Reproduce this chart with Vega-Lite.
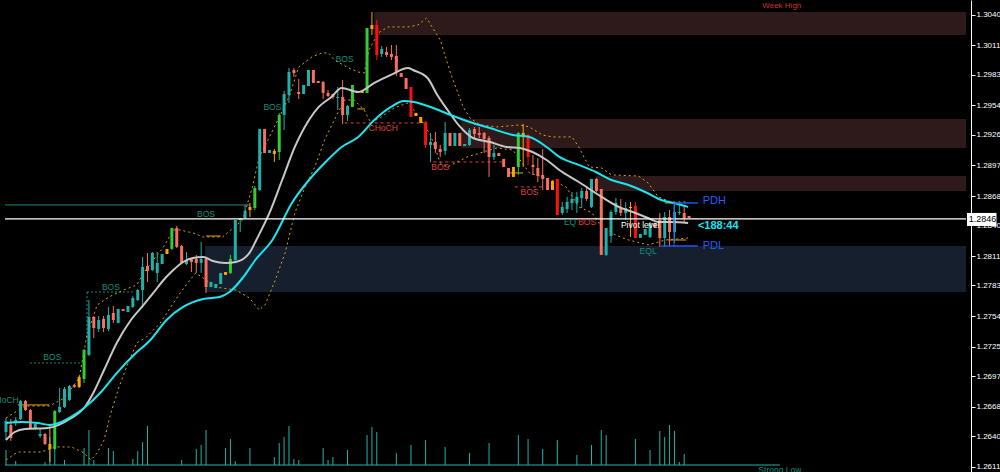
{
"$schema":"https://vega.github.io/schema/vega-lite/v6.json",
"width":971,"height":472,
"padding":{"left":0,"top":0,"right":29,"bottom":0},
"autosize":{"type":"none"},
"background":"#000000",
"config":{"view":{"stroke":null},"font":"Liberation Sans"},
"datasets":{
"candles":[
{"i":0,"o":1.26438,"c":1.26543,"h":1.26571,"l":1.26362,"k":"U"},
{"i":1,"o":1.26505,"c":1.26381,"h":1.26562,"l":1.26353,"k":"D"},
{"i":2,"o":1.26524,"c":1.26552,"h":1.26581,"l":1.26495,"k":"U"},
{"i":3,"o":1.26562,"c":1.26733,"h":1.26742,"l":1.26552,"k":"U"},
{"i":4,"o":1.26733,"c":1.26647,"h":1.26742,"l":1.26637,"k":"D"},
{"i":5,"o":1.26647,"c":1.26476,"h":1.26657,"l":1.26467,"k":"D"},
{"i":6,"o":1.26467,"c":1.26514,"h":1.26524,"l":1.26457,"k":"U"},
{"i":7,"o":1.26400,"c":1.26419,"h":1.26467,"l":1.26381,"k":"U"},
{"i":8,"o":1.26419,"c":1.26324,"h":1.26429,"l":1.26315,"k":"D"},
{"i":9,"o":1.26324,"c":1.26277,"h":1.26505,"l":1.26153,"k":"O"},
{"i":10,"o":1.26277,"c":1.26637,"h":1.26647,"l":1.26267,"k":"G"},
{"i":11,"o":1.26628,"c":1.26676,"h":1.26856,"l":1.26619,"k":"U"},
{"i":12,"o":1.26676,"c":1.26847,"h":1.26866,"l":1.26666,"k":"U"},
{"i":13,"o":1.26742,"c":1.26875,"h":1.26885,"l":1.26733,"k":"U"},
{"i":14,"o":1.26885,"c":1.26866,"h":1.26894,"l":1.26856,"k":"D"},
{"i":15,"o":1.26866,"c":1.26961,"h":1.26970,"l":1.26856,"k":"O"},
{"i":16,"o":1.26942,"c":1.27217,"h":1.27227,"l":1.26904,"k":"G"},
{"i":17,"o":1.27170,"c":1.27531,"h":1.27692,"l":1.27160,"k":"U"},
{"i":18,"o":1.27531,"c":1.27426,"h":1.27540,"l":1.27331,"k":"D"},
{"i":19,"o":1.27417,"c":1.27502,"h":1.27540,"l":1.27388,"k":"U"},
{"i":20,"o":1.27512,"c":1.27426,"h":1.27540,"l":1.27388,"k":"D"},
{"i":21,"o":1.27417,"c":1.27550,"h":1.27626,"l":1.27397,"k":"U"},
{"i":22,"o":1.27569,"c":1.27502,"h":1.27635,"l":1.27473,"k":"D"},
{"i":23,"o":1.27473,"c":1.27607,"h":1.27607,"l":1.27473,"k":"U"},
{"i":24,"o":1.27607,"c":1.27588,"h":1.27607,"l":1.27588,"k":"D"},
{"i":25,"o":1.27578,"c":1.27635,"h":1.27635,"l":1.27578,"k":"U"},
{"i":26,"o":1.27626,"c":1.27711,"h":1.27730,"l":1.27616,"k":"U"},
{"i":27,"o":1.27692,"c":1.27787,"h":1.27797,"l":1.27683,"k":"U"},
{"i":28,"o":1.27787,"c":1.28006,"h":1.28101,"l":1.27616,"k":"U"},
{"i":29,"o":1.28015,"c":1.27968,"h":1.28139,"l":1.27863,"k":"D"},
{"i":30,"o":1.27977,"c":1.28139,"h":1.28148,"l":1.27968,"k":"U"},
{"i":31,"o":1.27949,"c":1.28044,"h":1.28148,"l":1.27863,"k":"U"},
{"i":32,"o":1.28034,"c":1.28129,"h":1.28129,"l":1.28034,"k":"U"},
{"i":33,"o":1.28129,"c":1.28177,"h":1.28177,"l":1.28129,"k":"O"},
{"i":34,"o":1.28177,"c":1.28376,"h":1.28376,"l":1.28167,"k":"G"},
{"i":35,"o":1.28376,"c":1.28196,"h":1.28395,"l":1.28186,"k":"D"},
{"i":36,"o":1.28205,"c":1.28044,"h":1.28215,"l":1.28034,"k":"D"},
{"i":37,"o":1.28034,"c":1.28072,"h":1.28148,"l":1.28025,"k":"U"},
{"i":38,"o":1.28082,"c":1.28053,"h":1.28082,"l":1.27958,"k":"D"},
{"i":39,"o":1.28082,"c":1.28044,"h":1.28120,"l":1.27949,"k":"D"},
{"i":40,"o":1.28044,"c":1.28082,"h":1.28243,"l":1.27949,"k":"U"},
{"i":41,"o":1.28082,"c":1.27815,"h":1.28101,"l":1.27759,"k":"D"},
{"i":42,"o":1.27815,"c":1.27863,"h":1.27863,"l":1.27815,"k":"U"},
{"i":43,"o":1.27806,"c":1.27844,"h":1.27844,"l":1.27806,"k":"U"},
{"i":44,"o":1.27844,"c":1.27949,"h":1.27949,"l":1.27844,"k":"U"},
{"i":45,"o":1.27930,"c":1.27958,"h":1.27958,"l":1.27930,"k":"O"},
{"i":46,"o":1.27949,"c":1.28082,"h":1.28120,"l":1.27939,"k":"G"},
{"i":47,"o":1.28072,"c":1.28452,"h":1.28452,"l":1.28063,"k":"U"},
{"i":48,"o":1.28452,"c":1.28471,"h":1.28471,"l":1.28338,"k":"U"},
{"i":49,"o":1.28471,"c":1.28538,"h":1.28595,"l":1.28462,"k":"U"},
{"i":50,"o":1.28547,"c":1.28576,"h":1.28614,"l":1.28481,"k":"O"},
{"i":51,"o":1.28566,"c":1.28756,"h":1.28775,"l":1.28547,"k":"G"},
{"i":52,"o":1.28737,"c":1.29317,"h":1.29317,"l":1.28728,"k":"U"},
{"i":53,"o":1.29317,"c":1.29089,"h":1.29317,"l":1.29089,"k":"D"},
{"i":54,"o":1.29089,"c":1.29117,"h":1.29117,"l":1.29089,"k":"U"},
{"i":55,"o":1.29079,"c":1.29108,"h":1.29127,"l":1.29003,"k":"O"},
{"i":56,"o":1.29098,"c":1.29450,"h":1.29469,"l":1.29022,"k":"G"},
{"i":57,"o":1.29450,"c":1.29649,"h":1.29678,"l":1.29307,"k":"U"},
{"i":58,"o":1.29640,"c":1.29858,"h":1.29896,"l":1.29564,"k":"U"},
{"i":59,"o":1.29877,"c":1.29848,"h":1.29896,"l":1.29811,"k":"D"},
{"i":60,"o":1.29668,"c":1.29649,"h":1.29792,"l":1.29602,"k":"D"},
{"i":61,"o":1.29649,"c":1.29735,"h":1.29735,"l":1.29649,"k":"U"},
{"i":62,"o":1.29725,"c":1.29877,"h":1.29877,"l":1.29725,"k":"U"},
{"i":63,"o":1.29877,"c":1.29754,"h":1.29877,"l":1.29754,"k":"D"},
{"i":64,"o":1.29773,"c":1.29754,"h":1.29773,"l":1.29754,"k":"D"},
{"i":65,"o":1.29763,"c":1.29659,"h":1.29773,"l":1.29602,"k":"D"},
{"i":66,"o":1.29659,"c":1.29630,"h":1.29687,"l":1.29621,"k":"D"},
{"i":67,"o":1.29649,"c":1.29621,"h":1.29649,"l":1.29602,"k":"D"},
{"i":68,"o":1.29611,"c":1.29621,"h":1.29716,"l":1.29497,"k":"U"},
{"i":69,"o":1.29621,"c":1.29450,"h":1.29782,"l":1.29364,"k":"D"},
{"i":70,"o":1.29450,"c":1.29535,"h":1.29545,"l":1.29393,"k":"U"},
{"i":71,"o":1.29526,"c":1.29735,"h":1.29735,"l":1.29526,"k":"G"},
{"i":72,"o":1.29678,"c":1.29659,"h":1.29678,"l":1.29659,"k":"O"},
{"i":73,"o":1.29678,"c":1.29659,"h":1.29678,"l":1.29659,"k":"O"},
{"i":74,"o":1.29659,"c":1.30276,"h":1.30276,"l":1.29659,"k":"G"},
{"i":75,"o":1.30304,"c":1.30266,"h":1.30428,"l":1.30210,"k":"O"},
{"i":76,"o":1.30304,"c":1.30020,"h":1.30352,"l":1.29972,"k":"R"},
{"i":77,"o":1.30029,"c":1.30077,"h":1.30105,"l":1.30001,"k":"U"},
{"i":78,"o":1.30048,"c":1.30020,"h":1.30096,"l":1.30001,"k":"D"},
{"i":79,"o":1.30029,"c":1.30001,"h":1.30114,"l":1.29972,"k":"D"},
{"i":80,"o":1.30010,"c":1.29858,"h":1.30114,"l":1.29820,"k":"D"},
{"i":81,"o":1.29848,"c":1.29811,"h":1.29848,"l":1.29811,"k":"D"},
{"i":82,"o":1.29801,"c":1.29697,"h":1.29801,"l":1.29697,"k":"D"},
{"i":83,"o":1.29716,"c":1.29431,"h":1.29716,"l":1.29431,"k":"R"},
{"i":84,"o":1.29469,"c":1.29440,"h":1.29469,"l":1.29440,"k":"O"},
{"i":85,"o":1.29431,"c":1.29374,"h":1.29431,"l":1.29374,"k":"O"},
{"i":86,"o":1.29383,"c":1.29165,"h":1.29393,"l":1.29136,"k":"R"},
{"i":87,"o":1.29165,"c":1.29193,"h":1.29279,"l":1.29003,"k":"U"},
{"i":88,"o":1.29193,"c":1.29127,"h":1.29288,"l":1.29089,"k":"D"},
{"i":89,"o":1.29127,"c":1.29098,"h":1.29165,"l":1.29051,"k":"D"},
{"i":90,"o":1.29108,"c":1.29279,"h":1.29383,"l":1.29070,"k":"U"},
{"i":91,"o":1.29279,"c":1.29155,"h":1.29279,"l":1.29155,"k":"D"},
{"i":92,"o":1.29155,"c":1.29279,"h":1.29279,"l":1.29155,"k":"U"},
{"i":93,"o":1.29279,"c":1.29155,"h":1.29279,"l":1.29155,"k":"D"},
{"i":94,"o":1.29155,"c":1.29174,"h":1.29174,"l":1.29155,"k":"U"},
{"i":95,"o":1.29165,"c":1.29307,"h":1.29326,"l":1.29155,"k":"U"},
{"i":96,"o":1.29317,"c":1.29269,"h":1.29336,"l":1.29231,"k":"D"},
{"i":97,"o":1.29279,"c":1.29260,"h":1.29336,"l":1.29231,"k":"D"},
{"i":98,"o":1.29279,"c":1.29222,"h":1.29288,"l":1.29089,"k":"D"},
{"i":99,"o":1.29231,"c":1.29051,"h":1.29250,"l":1.28861,"k":"D"},
{"i":100,"o":1.29051,"c":1.29089,"h":1.29165,"l":1.29022,"k":"U"},
{"i":101,"o":1.29089,"c":1.29060,"h":1.29089,"l":1.29060,"k":"D"},
{"i":102,"o":1.29032,"c":1.28956,"h":1.29032,"l":1.28956,"k":"D"},
{"i":103,"o":1.28946,"c":1.28861,"h":1.28946,"l":1.28861,"k":"D"},
{"i":104,"o":1.28861,"c":1.28956,"h":1.28956,"l":1.28861,"k":"O"},
{"i":105,"o":1.28956,"c":1.29279,"h":1.29288,"l":1.28880,"k":"G"},
{"i":106,"o":1.29279,"c":1.29241,"h":1.29364,"l":1.28956,"k":"O"},
{"i":107,"o":1.29260,"c":1.29051,"h":1.29269,"l":1.28975,"k":"R"},
{"i":108,"o":1.28975,"c":1.28956,"h":1.29070,"l":1.28880,"k":"D"},
{"i":109,"o":1.28946,"c":1.28870,"h":1.29041,"l":1.28813,"k":"D"},
{"i":110,"o":1.28880,"c":1.28842,"h":1.29127,"l":1.28737,"k":"D"},
{"i":111,"o":1.28851,"c":1.28737,"h":1.28851,"l":1.28737,"k":"D"},
{"i":112,"o":1.28823,"c":1.28737,"h":1.28823,"l":1.28737,"k":"O"},
{"i":113,"o":1.28842,"c":1.28500,"h":1.28842,"l":1.28500,"k":"R"},
{"i":114,"o":1.28519,"c":1.28576,"h":1.28623,"l":1.28500,"k":"U"},
{"i":115,"o":1.28557,"c":1.28623,"h":1.28671,"l":1.28519,"k":"U"},
{"i":116,"o":1.28614,"c":1.28652,"h":1.28718,"l":1.28547,"k":"U"},
{"i":117,"o":1.28614,"c":1.28671,"h":1.28718,"l":1.28519,"k":"U"},
{"i":118,"o":1.28661,"c":1.28728,"h":1.28756,"l":1.28566,"k":"U"},
{"i":119,"o":1.28728,"c":1.28652,"h":1.28766,"l":1.28633,"k":"D"},
{"i":120,"o":1.28576,"c":1.28842,"h":1.28842,"l":1.28566,"k":"U"},
{"i":121,"o":1.28842,"c":1.28728,"h":1.28851,"l":1.28718,"k":"D"},
{"i":122,"o":1.28747,"c":1.28120,"h":1.28747,"l":1.28120,"k":"D"},
{"i":123,"o":1.28120,"c":1.28376,"h":1.28376,"l":1.28110,"k":"U"},
{"i":124,"o":1.28300,"c":1.28528,"h":1.28547,"l":1.28234,"k":"U"},
{"i":125,"o":1.28528,"c":1.28614,"h":1.28661,"l":1.28500,"k":"U"},
{"i":126,"o":1.28566,"c":1.28519,"h":1.28652,"l":1.28490,"k":"D"},
{"i":127,"o":1.28519,"c":1.28566,"h":1.28623,"l":1.28452,"k":"U"},
{"i":128,"o":1.28576,"c":1.28566,"h":1.28623,"l":1.28291,"k":"O"},
{"i":129,"o":1.28585,"c":1.28281,"h":1.28623,"l":1.28281,"k":"R"},
{"i":130,"o":1.28281,"c":1.28319,"h":1.28319,"l":1.28281,"k":"U"},
{"i":131,"o":1.28310,"c":1.28367,"h":1.28367,"l":1.28310,"k":"U"},
{"i":132,"o":1.28291,"c":1.28424,"h":1.28433,"l":1.28281,"k":"U"},
{"i":133,"o":1.28424,"c":1.28386,"h":1.28424,"l":1.28386,"k":"D"},
{"i":134,"o":1.28452,"c":1.28281,"h":1.28519,"l":1.28196,"k":"D"},
{"i":135,"o":1.28281,"c":1.28481,"h":1.28528,"l":1.28196,"k":"U"},
{"i":136,"o":1.28481,"c":1.28338,"h":1.28547,"l":1.28196,"k":"D"},
{"i":137,"o":1.28338,"c":1.28528,"h":1.28614,"l":1.28234,"k":"U"},
{"i":138,"o":1.28519,"c":1.28528,"h":1.28623,"l":1.28500,"k":"U"},
{"i":139,"o":1.28519,"c":1.28471,"h":1.28576,"l":1.28433,"k":"D"},
{"i":140,"o":1.28490,"c":1.28471,"h":1.28490,"l":1.28471,"k":"D"}
],
"vol":[
{"i":0,"v":150},{"i":2,"v":40},{"i":8,"v":30},{"i":9,"v":280},{"i":10,"v":180},{"i":12,"v":50},{"i":16,"v":170},{"i":17,"v":350},{"i":18,"v":50},{"i":21,"v":170},{"i":22,"v":140},{"i":26,"v":60},{"i":27,"v":140},{"i":28,"v":230},{"i":29,"v":390},{"i":36,"v":50},{"i":39,"v":160},{"i":40,"v":200},{"i":41,"v":350},{"i":45,"v":170},{"i":46,"v":260},{"i":47,"v":40},{"i":50,"v":170},{"i":55,"v":80},{"i":56,"v":220},{"i":57,"v":280},{"i":58,"v":390},{"i":59,"v":60},{"i":60,"v":50},{"i":65,"v":170},{"i":66,"v":50},{"i":67,"v":80},
{"i":70,"v":150},{"i":74,"v":300},{"i":75,"v":380},{"i":76,"v":330},{"i":80,"v":120},{"i":83,"v":200},{"i":86,"v":250},{"i":90,"v":180},{"i":95,"v":120},{"i":99,"v":220},{"i":105,"v":300},{"i":107,"v":260},{"i":110,"v":160},{"i":113,"v":250},{"i":117,"v":100},{"i":120,"v":200},{"i":122,"v":350},{"i":123,"v":300},{"i":129,"v":260},{"i":132,"v":150},
{"i":134,"v":340},{"i":135,"v":280},{"i":136,"v":400},{"i":137,"v":340},{"i":138,"v":30},{"i":139,"v":110}
],
"ma1":[
{"i":0,"p":1.26362},{"i":1.8,"p":1.26438},{"i":3.9,"p":1.26467},{"i":8.5,"p":1.26476},{"i":13.4,"p":1.26571},{"i":16,"p":1.26666},{"i":18,"p":1.26818},{"i":20.1,"p":1.27027},{"i":22.7,"p":1.27284},{"i":25.6,"p":1.27502},{"i":28.2,"p":1.27645},{"i":30.2,"p":1.27759},{"i":32.3,"p":1.27882},{"i":34.3,"p":1.27977},{"i":36.3,"p":1.28053},{"i":38.3,"p":1.28091},{"i":40.4,"p":1.28101},{"i":42.4,"p":1.28063},{"i":45,"p":1.28044},{"i":47.1,"p":1.28053},{"i":49.9,"p":1.28139},{"i":51.3,"p":1.28262},{"i":54,"p":1.28519},{"i":56.6,"p":1.28832},{"i":59.2,"p":1.29146},{"i":62.1,"p":1.29402},{"i":64.1,"p":1.29526},{"i":66.7,"p":1.29621},{"i":68.8,"p":1.29706},{"i":72.2,"p":1.29668},{"i":75.5,"p":1.29754},{"i":78.9,"p":1.29830},{"i":82.4,"p":1.29896},{"i":83.4,"p":1.29877},{"i":86.4,"p":1.29801},{"i":88.4,"p":1.29640},{"i":90.5,"p":1.29497},{"i":93.1,"p":1.29336},{"i":95.7,"p":1.29231},{"i":99.2,"p":1.29193},{"i":102.6,"p":1.29146},{"i":105.3,"p":1.29136},{"i":107.9,"p":1.29098},{"i":110.8,"p":1.29022},{"i":113.4,"p":1.28927},{"i":117.4,"p":1.28813},{"i":122.1,"p":1.28671},{"i":125.6,"p":1.28576},{"i":129,"p":1.28519},{"i":131.6,"p":1.28471},{"i":133.7,"p":1.28433},{"i":136.3,"p":1.28433},{"i":139.8,"p":1.28424}
],
"ma2":[
{"i":0,"p":1.26524},{"i":3.2,"p":1.26533},{"i":6.5,"p":1.26524},{"i":8.9,"p":1.26505},{"i":11.4,"p":1.26533},{"i":14,"p":1.26600},{"i":16,"p":1.26666},{"i":19.5,"p":1.26818},{"i":22.7,"p":1.26998},{"i":26.2,"p":1.27170},{"i":29.6,"p":1.27312},{"i":32.9,"p":1.27502},{"i":36.3,"p":1.27626},{"i":40.4,"p":1.27702},{"i":43.8,"p":1.27721},{"i":45.8,"p":1.27768},{"i":48.5,"p":1.27901},{"i":51.1,"p":1.28072},{"i":54.6,"p":1.28262},{"i":58.6,"p":1.28614},{"i":62.1,"p":1.28832},{"i":65.3,"p":1.28994},{"i":68.8,"p":1.29146},{"i":72.2,"p":1.29241},{"i":75.5,"p":1.29402},{"i":78.9,"p":1.29526},{"i":81.5,"p":1.29583},{"i":83.6,"p":1.29573},{"i":87,"p":1.29526},{"i":91.1,"p":1.29450},{"i":95.7,"p":1.29374},{"i":99.2,"p":1.29326},{"i":103.9,"p":1.29260},{"i":107.3,"p":1.29241},{"i":110.8,"p":1.29146},{"i":113.4,"p":1.29051},{"i":117.4,"p":1.28975},{"i":120.9,"p":1.28908},{"i":124.1,"p":1.28832},{"i":127.6,"p":1.28785},{"i":131,"p":1.28718},{"i":134.3,"p":1.28642},{"i":137.7,"p":1.28604},{"i":139.8,"p":1.28576}
],
"ub":[
{"i":0,"p":1.26571},{"i":3.9,"p":1.26685},{"i":8.9,"p":1.26685},{"i":12,"p":1.26761},{"i":15,"p":1.26951},{"i":16.6,"p":1.27359},{"i":18.7,"p":1.27645},{"i":21.1,"p":1.27721},{"i":24.1,"p":1.27787},{"i":26.8,"p":1.27835},{"i":28.2,"p":1.27949},{"i":30.2,"p":1.28072},{"i":32.3,"p":1.28196},{"i":34.3,"p":1.28357},{"i":35.7,"p":1.28357},{"i":38.3,"p":1.28329},{"i":40.4,"p":1.28291},{"i":44.4,"p":1.28291},{"i":48.5,"p":1.28452},{"i":50.5,"p":1.28766},{"i":51.9,"p":1.29051},{"i":54,"p":1.29241},{"i":56,"p":1.29431},{"i":58,"p":1.29621},{"i":60,"p":1.29906},{"i":62.7,"p":1.30001},{"i":64.7,"p":1.30039},{"i":66.1,"p":1.30039},{"i":67.3,"p":1.29972},{"i":70.2,"p":1.29896},{"i":72.2,"p":1.29858},{"i":73.4,"p":1.29848},{"i":74.4,"p":1.30067},{"i":76.3,"p":1.30229},{"i":78.3,"p":1.30286},{"i":82.4,"p":1.30286},{"i":84.4,"p":1.30304},{"i":86.2,"p":1.30371},{"i":89,"p":1.30162},{"i":91.1,"p":1.29848},{"i":93.7,"p":1.29526},{"i":95.1,"p":1.29421},{"i":97.2,"p":1.29355},{"i":100.6,"p":1.29336},{"i":105.3,"p":1.29355},{"i":107.3,"p":1.29336},{"i":109.9,"p":1.29260},{"i":112,"p":1.29241},{"i":116,"p":1.29241},{"i":117.4,"p":1.29146},{"i":119.5,"p":1.28956},{"i":122.1,"p":1.28946},{"i":124.1,"p":1.28880},{"i":129.6,"p":1.28870},{"i":131.6,"p":1.28804},{"i":133.7,"p":1.28671},{"i":136.3,"p":1.28623},{"i":139.8,"p":1.28623}
],
"lb":[
{"i":0,"p":1.26172},{"i":2.4,"p":1.26248},{"i":7.3,"p":1.26248},{"i":9.9,"p":1.26296},{"i":13.4,"p":1.26296},{"i":16,"p":1.26239},{"i":17.4,"p":1.26172},{"i":18.7,"p":1.26239},{"i":20.1,"p":1.26362},{"i":21.5,"p":1.26619},{"i":23.1,"p":1.26856},{"i":24.7,"p":1.27055},{"i":26.8,"p":1.27284},{"i":28.8,"p":1.27341},{"i":31.6,"p":1.27473},{"i":35.7,"p":1.27759},{"i":37.7,"p":1.27882},{"i":38.9,"p":1.27949},{"i":40.4,"p":1.27901},{"i":43,"p":1.27815},{"i":47.1,"p":1.27787},{"i":49.9,"p":1.27711},{"i":51.9,"p":1.27597},{"i":53.1,"p":1.27645},{"i":55.2,"p":1.27882},{"i":57.2,"p":1.28139},{"i":59.2,"p":1.28519},{"i":61.3,"p":1.28766},{"i":63.3,"p":1.28956},{"i":65.3,"p":1.29212},{"i":67.3,"p":1.29402},{"i":69.4,"p":1.29592},{"i":71.4,"p":1.29592},{"i":73.4,"p":1.29497},{"i":74.8,"p":1.29374},{"i":76.9,"p":1.29431},{"i":79.5,"p":1.29516},{"i":82.4,"p":1.29564},{"i":84.4,"p":1.29450},{"i":87,"p":1.29260},{"i":89,"p":1.28994},{"i":90.5,"p":1.28956},{"i":94.5,"p":1.29051},{"i":97.8,"p":1.29098},{"i":100.6,"p":1.29136},{"i":103.9,"p":1.29117},{"i":107.3,"p":1.28898},{"i":110.8,"p":1.28851},{"i":114.8,"p":1.28766},{"i":117.4,"p":1.28576},{"i":120.1,"p":1.28519},{"i":122.1,"p":1.28386},{"i":124.9,"p":1.28310},{"i":127.6,"p":1.28262},{"i":131.6,"p":1.28215},{"i":135.1,"p":1.28262},{"i":139.8,"p":1.28281}
]
},
"layer":[
 {"data":{"values":[{"a":75.5,"b":196.75,"p1":1.30428,"p2":1.30210},{"a":93.3,"b":196.75,"p1":1.29412,"p2":1.29136},{"a":120.9,"b":196.75,"p1":1.28870,"p2":1.28728}]},
  "mark":{"type":"rect","color":"#2e1a1a"},
  "encoding":{"x":{"field":"a","type":"quantitative","scale":{"domain":[-0.2,196.75],"nice":false,"zero":false},"axis":null},"x2":{"field":"b"},
   "y":{"field":"p1","type":"quantitative","scale":{"domain":[1.26058,1.30542],"nice":false,"zero":false},
     "axis":{"orient":"right","title":null,"values":[1.3040,1.3011,1.2983,1.2954,1.2926,1.2897,1.2868,1.2840,1.2811,1.2783,1.2754,1.2725,1.2697,1.2668,1.2640,1.2611],"format":".4f","domain":true,"domainColor":"#ffffff","domainWidth":1,"ticks":true,"tickColor":"#ffffff","tickSize":4,"labels":true,"labelColor":"#ffffff","labelFont":"Liberation Sans","labelFontSize":8,"labelPadding":1,"labelFlush":false,"labelOverlap":false,"grid":false}},
   "y2":{"field":"p2"}}},
 {"data":{"values":[{"a":40.8,"b":196.75,"p1":1.28205,"p2":1.27768}]},
  "mark":{"type":"rect","color":"#151f2e"},
  "encoding":{"x":{"field":"a","type":"quantitative","axis":null},"x2":{"field":"b"},"y":{"field":"p1","type":"quantitative","scale":{"domain":[1.26058,1.30542],"nice":false,"zero":false},"axis":null},"y2":{"field":"p2"}}},
 {"data":{"name":"vol"},"mark":{"type":"rule","color":"#20b2aa","strokeWidth":1},
  "encoding":{"x":{"field":"i","type":"quantitative","axis":null},
   "y":{"field":"v","type":"quantitative","scale":{"domain":[-70,4650],"nice":false,"zero":false},"axis":null},
   "y2":{"datum":0}}},
 {"data":{"values":[{"a":-0.2,"b":158.6,"v":0}]},"mark":{"type":"rule","color":"#20b2aa","strokeWidth":1},
  "encoding":{"x":{"field":"a","type":"quantitative","axis":null},"x2":{"field":"b"},"y":{"field":"v","type":"quantitative","scale":{"domain":[-70,4650],"nice":false,"zero":false},"axis":null}}},
 {"data":{"values":[{"a":-0.2,"b":49.9,"p":1.28595}]},
  "mark":{"type":"rule","color":"#1a8c7c","strokeWidth":1},
  "encoding":{"x":{"field":"a","type":"quantitative","axis":null},"x2":{"field":"b"},"y":{"field":"p","type":"quantitative","scale":{"domain":[1.26058,1.30542],"nice":false,"zero":false},"axis":null}}},
 {"data":{"values":[{"a":4.9,"b":15.4,"p":1.27094},{"a":16.6,"b":26.2,"p":1.27768}]},
  "mark":{"type":"rule","color":"#1a8c7c","strokeWidth":1,"strokeDash":[2,2]},
  "encoding":{"x":{"field":"a","type":"quantitative","axis":null},"x2":{"field":"b"},"y":{"field":"p","type":"quantitative","scale":{"domain":[1.26058,1.30542],"nice":false,"zero":false},"axis":null}}},
 {"data":{"values":[{"a":16.6,"p1":1.27768,"p2":1.27312}]},
  "mark":{"type":"rule","color":"#1a8c7c","strokeWidth":1,"strokeDash":[2,2]},
  "encoding":{"x":{"field":"a","type":"quantitative","axis":null},"y":{"field":"p1","type":"quantitative","scale":{"domain":[1.26058,1.30542],"nice":false,"zero":false},"axis":null},"y2":{"field":"p2"}}},
 {"data":{"values":[{"a":69.4,"b":85.6,"p":1.29374},{"a":87.6,"b":102.2,"p":1.29003},{"a":104.3,"b":110.3,"p":1.28766}]},
  "mark":{"type":"rule","color":"#e04040","strokeWidth":1,"strokeDash":[3,3]},
  "encoding":{"x":{"field":"a","type":"quantitative","axis":null},"x2":{"field":"b"},"y":{"field":"p","type":"quantitative","scale":{"domain":[1.26058,1.30542],"nice":false,"zero":false},"axis":null}}},
 {"data":{"name":"ub"},"mark":{"type":"line","color":"#d9a21b","strokeWidth":1,"strokeDash":[2,3]},
  "encoding":{"x":{"field":"i","type":"quantitative","axis":null},"y":{"field":"p","type":"quantitative","scale":{"domain":[1.26058,1.30542],"nice":false,"zero":false},"axis":null}}},
 {"data":{"name":"lb"},"mark":{"type":"line","color":"#d9a21b","strokeWidth":1,"strokeDash":[2,3]},
  "encoding":{"x":{"field":"i","type":"quantitative","axis":null},"y":{"field":"p","type":"quantitative","scale":{"domain":[1.26058,1.30542],"nice":false,"zero":false},"axis":null}}},
 {"data":{"values":[{"a":2.4,"b":8.9,"p":1.26695},{"a":72,"b":73.6,"p":1.29507},{"a":103,"b":106,"p":1.28899},{"a":41,"b":44,"p":1.28300},{"a":135,"b":138.3,"p":1.28614},{"a":135.7,"b":139.4,"p":1.28262}]},
  "mark":{"type":"rule","color":"#e8a317","strokeWidth":1},
  "encoding":{"x":{"field":"a","type":"quantitative","axis":null},"x2":{"field":"b"},"y":{"field":"p","type":"quantitative","scale":{"domain":[1.26058,1.30542],"nice":false,"zero":false},"axis":null}}},
 {"data":{"name":"candles"},"mark":{"type":"rule","strokeWidth":1},
  "encoding":{"x":{"field":"i","type":"quantitative","axis":null},"y":{"field":"l","type":"quantitative","scale":{"domain":[1.26058,1.30542],"nice":false,"zero":false},"axis":null},"y2":{"field":"h"},
   "color":{"field":"k","type":"nominal","scale":{"domain":["U","D","G","R","O"],"range":["#20b2aa","#fa7060","#32cd32","#ff1010","#ffa500"]},"legend":null}}},
 {"data":{"name":"candles"},"mark":{"type":"bar","size":3},
  "encoding":{"x":{"field":"i","type":"quantitative","axis":null},"y":{"field":"o","type":"quantitative","scale":{"domain":[1.26058,1.30542],"nice":false,"zero":false},"axis":null},"y2":{"field":"c"},
   "color":{"field":"k","type":"nominal","legend":null}}},
 {"data":{"name":"ma1"},"mark":{"type":"line","color":"#c8c8c8","strokeWidth":2,"interpolate":"monotone"},
  "encoding":{"x":{"field":"i","type":"quantitative","axis":null},"y":{"field":"p","type":"quantitative","scale":{"domain":[1.26058,1.30542],"nice":false,"zero":false},"axis":null}}},
 {"data":{"name":"ma2"},"mark":{"type":"line","color":"#19e6f0","strokeWidth":2,"interpolate":"monotone"},
  "encoding":{"x":{"field":"i","type":"quantitative","axis":null},"y":{"field":"p","type":"quantitative","scale":{"domain":[1.26058,1.30542],"nice":false,"zero":false},"axis":null}}},
 {"data":{"values":[{"a":-0.2,"b":196.75,"p":1.28462}]},"mark":{"type":"rule","color":"#ffffff","strokeWidth":1.2},
  "encoding":{"x":{"field":"a","type":"quantitative","axis":null},"x2":{"field":"b"},"y":{"field":"p","type":"quantitative","scale":{"domain":[1.26058,1.30542],"nice":false,"zero":false},"axis":null}}},
 {"data":{"values":[{"a":137.1,"b":141.8,"p":1.28614},{"a":134.3,"b":141.8,"p":1.28205}]},
  "mark":{"type":"rule","color":"#2255ee","strokeWidth":1.5},
  "encoding":{"x":{"field":"a","type":"quantitative","axis":null},"x2":{"field":"b"},"y":{"field":"p","type":"quantitative","scale":{"domain":[1.26058,1.30542],"nice":false,"zero":false},"axis":null}}},
 {"data":{"values":[{"a":136.9,"p1":1.28633,"p2":1.28196}]},
  "mark":{"type":"rule","color":"#2255ee","strokeWidth":1},
  "encoding":{"x":{"field":"a","type":"quantitative","axis":null},"y":{"field":"p1","type":"quantitative","scale":{"domain":[1.26058,1.30542],"nice":false,"zero":false},"axis":null},"y2":{"field":"p2"}}},
 {"data":{"values":[{"i":9.5,"p":1.27151,"t":"BOS"},{"i":21.5,"p":1.27815,"t":"BOS"},{"i":41,"p":1.28509,"t":"BOS"},{"i":54.6,"p":1.29526,"t":"BOS"},{"i":69.4,"p":1.29982,"t":"BOS"},{"i":115.6,"p":1.28433,"t":"EQ"},{"i":131.6,"p":1.28158,"t":"EQL"}]},
  "mark":{"type":"text","font":"Liberation Sans","fontSize":8.5,"color":"#1a8c7c","align":"center","baseline":"middle"},
  "encoding":{"x":{"field":"i","type":"quantitative","axis":null},"y":{"field":"p","type":"quantitative","scale":{"domain":[1.26058,1.30542],"nice":false,"zero":false},"axis":null},"text":{"field":"t"}}},
 {"data":{"values":[{"i":2.6,"p":1.26742,"t":"CHoCH"}]},
  "mark":{"type":"text","font":"Liberation Sans","fontSize":8.5,"color":"#1a8c7c","align":"right","baseline":"middle"},
  "encoding":{"x":{"field":"i","type":"quantitative","axis":null},"y":{"field":"p","type":"quantitative","scale":{"domain":[1.26058,1.30542],"nice":false,"zero":false},"axis":null},"text":{"field":"t"}}},
 {"data":{"values":[{"i":77.3,"p":1.29326,"t":"CHoCH"},{"i":89,"p":1.28956,"t":"BOS"},{"i":107.3,"p":1.28718,"t":"BOS"},{"i":119.1,"p":1.28433,"t":"BOS"}]},
  "mark":{"type":"text","font":"Liberation Sans","fontSize":8.5,"color":"#e04040","align":"center","baseline":"middle"},
  "encoding":{"x":{"field":"i","type":"quantitative","axis":null},"y":{"field":"p","type":"quantitative","scale":{"domain":[1.26058,1.30542],"nice":false,"zero":false},"axis":null},"text":{"field":"t"}}},
 {"data":{"values":[{"i":130,"p":1.28405,"t":"Pivot level"}]},
  "mark":{"type":"text","font":"Liberation Sans","fontSize":8.5,"color":"#ffffff","align":"center","baseline":"middle"},
  "encoding":{"x":{"field":"i","type":"quantitative","axis":null},"y":{"field":"p","type":"quantitative","scale":{"domain":[1.26058,1.30542],"nice":false,"zero":false},"axis":null},"text":{"field":"t"}}},
 {"data":{"values":[{"i":142.8,"p":1.28633,"t":"PDH"},{"i":142.8,"p":1.28205,"t":"PDL"}]},
  "mark":{"type":"text","font":"Liberation Sans","fontSize":11,"color":"#2a5cff","align":"left","baseline":"middle"},
  "encoding":{"x":{"field":"i","type":"quantitative","axis":null},"y":{"field":"p","type":"quantitative","scale":{"domain":[1.26058,1.30542],"nice":false,"zero":false},"axis":null},"text":{"field":"t"}}},
 {"data":{"values":[{"i":141.8,"p":1.28395,"t":"<188:44"}]},
  "mark":{"type":"text","font":"Liberation Sans","fontSize":11,"fontWeight":"bold","color":"#19e6f0","align":"left","baseline":"middle"},
  "encoding":{"x":{"field":"i","type":"quantitative","axis":null},"y":{"field":"p","type":"quantitative","scale":{"domain":[1.26058,1.30542],"nice":false,"zero":false},"axis":null},"text":{"field":"t"}}},
 {"data":{"values":[{"i":159,"p":1.30485,"t":"Week High"}]},
  "mark":{"type":"text","font":"Liberation Sans","fontSize":8,"color":"#cc3333","align":"center","baseline":"middle"},
  "encoding":{"x":{"field":"i","type":"quantitative","axis":null},"y":{"field":"p","type":"quantitative","scale":{"domain":[1.26058,1.30542],"nice":false,"zero":false},"axis":null},"text":{"field":"t"}}},
 {"data":{"values":[{"i":158.6,"p":1.26115,"t":"Strong Low"}]},
  "mark":{"type":"text","font":"Liberation Sans","fontSize":8.5,"color":"#1a8c7c","align":"center","baseline":"top"},
  "encoding":{"x":{"field":"i","type":"quantitative","axis":null},"y":{"field":"p","type":"quantitative","scale":{"domain":[1.26058,1.30542],"nice":false,"zero":false},"axis":null},"text":{"field":"t"}}},
 {"data":{"values":[{"a":196.95,"b":203,"p1":1.28519,"p2":1.28395}]},
  "mark":{"type":"rect","color":"#ffffff"},
  "encoding":{"x":{"field":"a","type":"quantitative","axis":null},"x2":{"field":"b"},"y":{"field":"p1","type":"quantitative","scale":{"domain":[1.26058,1.30542],"nice":false,"zero":false},"axis":null},"y2":{"field":"p2"}}},
 {"data":{"values":[{"i":197.3,"p":1.28457,"t":"1.2846"}]},
  "mark":{"type":"text","font":"Liberation Sans","fontSize":9,"color":"#000000","align":"left","baseline":"middle"},
  "encoding":{"x":{"field":"i","type":"quantitative","axis":null},"y":{"field":"p","type":"quantitative","scale":{"domain":[1.26058,1.30542],"nice":false,"zero":false},"axis":null},"text":{"field":"t"}}}
],
"resolve":{"scale":{"y":"independent"}}
}
